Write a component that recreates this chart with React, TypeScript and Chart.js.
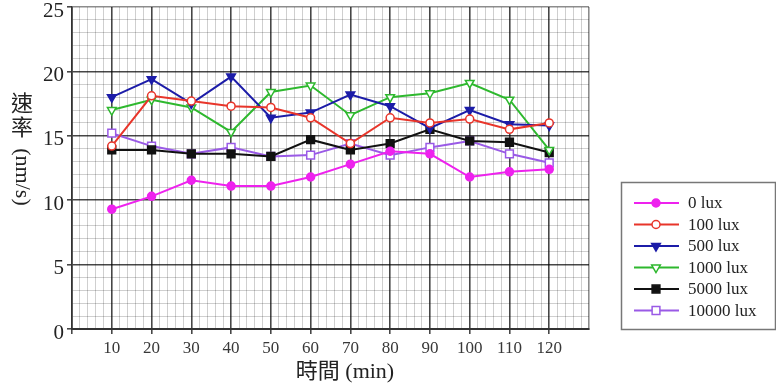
import React, { useEffect, useRef } from 'react';
import { Chart, registerables } from 'chart.js';
import { drawPoint } from 'chart.js/helpers';

Chart.register(...registerables);

// ---- data ----
const times = [10, 20, 30, 40, 50, 60, 70, 80, 90, 100, 110, 120];
const lux0 = [9.3, 10.3, 11.55, 11.1, 11.1, 11.8, 12.8, 13.8, 13.6, 11.8, 12.2, 12.4];
const lux100 = [14.2, 18.1, 17.7, 17.3, 17.2, 16.4, 14.4, 16.4, 16.0, 16.3, 15.5, 16.0];
const lux500 = [18.0, 19.4, 17.5, 19.6, 16.4, 16.8, 18.2, 17.3, 15.6, 17.0, 15.9, 15.8];
const lux1000 = [17.0, 17.8, 17.2, 15.3, 18.4, 18.9, 16.6, 18.0, 18.3, 19.1, 17.8, 13.9];
const lux5000 = [13.9, 13.9, 13.6, 13.6, 13.4, 14.7, 13.9, 14.4, 15.5, 14.6, 14.5, 13.7];
const lux10000 = [15.2, 14.2, 13.6, 14.1, 13.4, 13.5, 14.4, 13.5, 14.1, 14.6, 13.6, 12.9];
const seriesLabels = ['0 lux', '100 lux', '500 lux', '1000 lux', '5000 lux', '10000 lux'];
const xTickLabels = [10, 20, 30, 40, 50, 60, 70, 80, 90, 100, 110, 120];
const yTickLabels = [0, 5, 10, 15, 20, 25];
const xTitleText = '時間 (min)';
const yTitleChars = ['速', '率'];
const yTitleUnit = '(nm/s)';

const SERIF = "'Liberation Serif', 'DejaVu Serif', serif";
const CJK = "'Noto Sans CJK TC', 'Noto Sans CJK SC', sans-serif";

const styles = [
  { color: '#ee22ee', fill: '#ee22ee', pointStyle: 'circle', rotation: 0, radius: 4 },
  { color: '#e8352a', fill: '#ffffff', pointStyle: 'circle', rotation: 0, radius: 4 },
  { color: '#1c1ca8', fill: '#1c1ca8', pointStyle: 'triangle', rotation: 180, radius: 5 },
  { color: '#2eb82e', fill: '#ffffff', pointStyle: 'triangle', rotation: 180, radius: 5 },
  { color: '#111111', fill: '#111111', pointStyle: 'rect', rotation: 0, radius: 5.5 },
  { color: '#9a5ae6', fill: '#ffffff', pointStyle: 'rect', rotation: 0, radius: 5.5 },
];

const seriesValues = [lux0, lux100, lux500, lux1000, lux5000, lux10000];

const MAJOR = 'rgba(0,0,0,0.72)';
const MINOR = 'rgba(0,0,0,0.19)';
const EDGE = 'rgba(0,0,0,0.45)';

const annotPlugin = {
  id: 'annot',
  afterDraw(chart: any) {
    const ctx = chart.ctx as CanvasRenderingContext2D;
    ctx.save();
    ctx.fillStyle = '#222';
    ctx.textAlign = 'center';
    ctx.textBaseline = 'middle';
    // Y title
    ctx.font = `22px ${CJK}`;
    ctx.fillText(yTitleChars[0], 22, 103);
    ctx.fillText(yTitleChars[1], 22, 127);
    ctx.save();
    ctx.translate(22, 177);
    ctx.rotate(Math.PI / 2);
    ctx.font = `22px ${SERIF}`;
    ctx.fillText(yTitleUnit, 0, 0);
    ctx.restore();
    // X title
    ctx.font = `22px ${SERIF}, ${CJK}`;
    ctx.fillText(xTitleText, 345, 372);

    // Legend
    ctx.strokeStyle = '#777';
    ctx.lineWidth = 1.5;
    ctx.strokeRect(621.5, 182.5, 154, 147);
    const datasets = chart.data.datasets;
    ctx.textAlign = 'left';
    ctx.font = `17px ${SERIF}`;
    datasets.forEach((ds: any, i: number) => {
      const y = 203 + i * 21.5;
      ctx.strokeStyle = ds.borderColor;
      ctx.lineWidth = 2;
      ctx.beginPath();
      ctx.moveTo(634, y);
      ctx.lineTo(679, y);
      ctx.stroke();
      ctx.fillStyle = ds.pointBackgroundColor;
      ctx.strokeStyle = ds.pointBorderColor;
      ctx.lineWidth = 1.5;
      drawPoint(ctx, {
        pointStyle: ds.pointStyle,
        rotation: ds.pointRotation,
        radius: ds.pointRadius,
        borderWidth: 1.5,
      } as any, 656, y);
      ctx.fillStyle = '#222';
      ctx.fillText(ds.label, 688, y + 1);
    });
    ctx.restore();
  },
};

export default function App() {
  const ref = useRef<HTMLCanvasElement | null>(null);
  useEffect(() => {
    if (!ref.current) return;
    const datasets = seriesValues.map((vals, i) => ({
      label: seriesLabels[i],
      data: vals.map((v, j) => ({ x: times[j], y: v })),
      borderColor: styles[i].color,
      backgroundColor: styles[i].fill,
      pointBackgroundColor: styles[i].fill,
      pointBorderColor: styles[i].color,
      pointStyle: styles[i].pointStyle,
      pointRotation: styles[i].rotation,
      pointRadius: styles[i].radius,
      pointBorderWidth: 1.5,
      borderWidth: 2,
      tension: 0,
      fill: false,
    }));
    const isMajorX = (v: number) => v % 10 === 0;
    const isMajorY = (v: number) => v % 5 === 0;
    const chart = new Chart(ref.current, {
      type: 'line',
      data: { datasets: datasets as any },
      plugins: [annotPlugin],
      options: {
        animation: false,
        responsive: false,
        layout: { padding: { top: 7, right: 187, left: 0, bottom: 0 } },
        plugins: { legend: { display: false }, tooltip: { enabled: false } },
        scales: {
          x: {
            type: 'linear',
            min: 0,
            max: 130,
            afterFit: (s: any) => {
              s.height = 56;
              s.paddingLeft = 0;
              s.paddingRight = 0;
            },
            ticks: {
              stepSize: 2,
              autoSkip: false,
              maxRotation: 0,
              padding: 4,
              color: '#383838',
              font: { family: SERIF, size: 17 },
              callback: (v: any) => (xTickLabels.includes(Number(v)) ? String(v) : ''),
            },
            grid: {
              color: (c: any) => {
                const v = c.tick ? c.tick.value : 0;
                if (v === 130) return EDGE;
                return isMajorX(v) ? MAJOR : MINOR;
              },
              lineWidth: (c: any) => {
                const v = c.tick ? c.tick.value : 0;
                return isMajorX(v) ? 1.6 : 1;
              },
              tickColor: (c: any) => {
                const v = c.tick ? c.tick.value : 0;
                return isMajorX(v) && v < 130 ? MAJOR : 'rgba(0,0,0,0)';
              },
              tickLength: 5,
            },
            border: { color: '#333', width: 2 },
          },
          y: {
            type: 'linear',
            min: 0,
            max: 25,
            afterFit: (s: any) => {
              s.width = 72;
              s.paddingTop = 0;
              s.paddingBottom = 0;
            },
            ticks: {
              stepSize: 1,
              autoSkip: false,
              padding: 3,
              labelOffset: 4,
              color: '#222',
              font: { family: SERIF, size: 21 },
              callback: (v: any) => (yTickLabels.includes(Number(v)) ? String(v) : ''),
            },
            grid: {
              color: (c: any) => {
                const v = c.tick ? c.tick.value : 0;
                if (v === 25) return EDGE;
                return isMajorY(v) ? MAJOR : MINOR;
              },
              lineWidth: (c: any) => {
                const v = c.tick ? c.tick.value : 0;
                return isMajorY(v) ? 1.6 : 1;
              },
              tickColor: (c: any) => {
                const v = c.tick ? c.tick.value : 0;
                return isMajorY(v) ? MAJOR : 'rgba(0,0,0,0)';
              },
              tickLength: 5,
            },
            border: { color: '#333', width: 1.6 },
          },
        },
      } as any,
    });
    return () => chart.destroy();
  }, []);
  return (
    <div style={{ position: 'fixed', left: 0, top: 0, width: 776, height: 385, background: '#fff' }}>
      <canvas ref={ref} width={776} height={385} style={{ display: 'block' }} />
    </div>
  );
}
